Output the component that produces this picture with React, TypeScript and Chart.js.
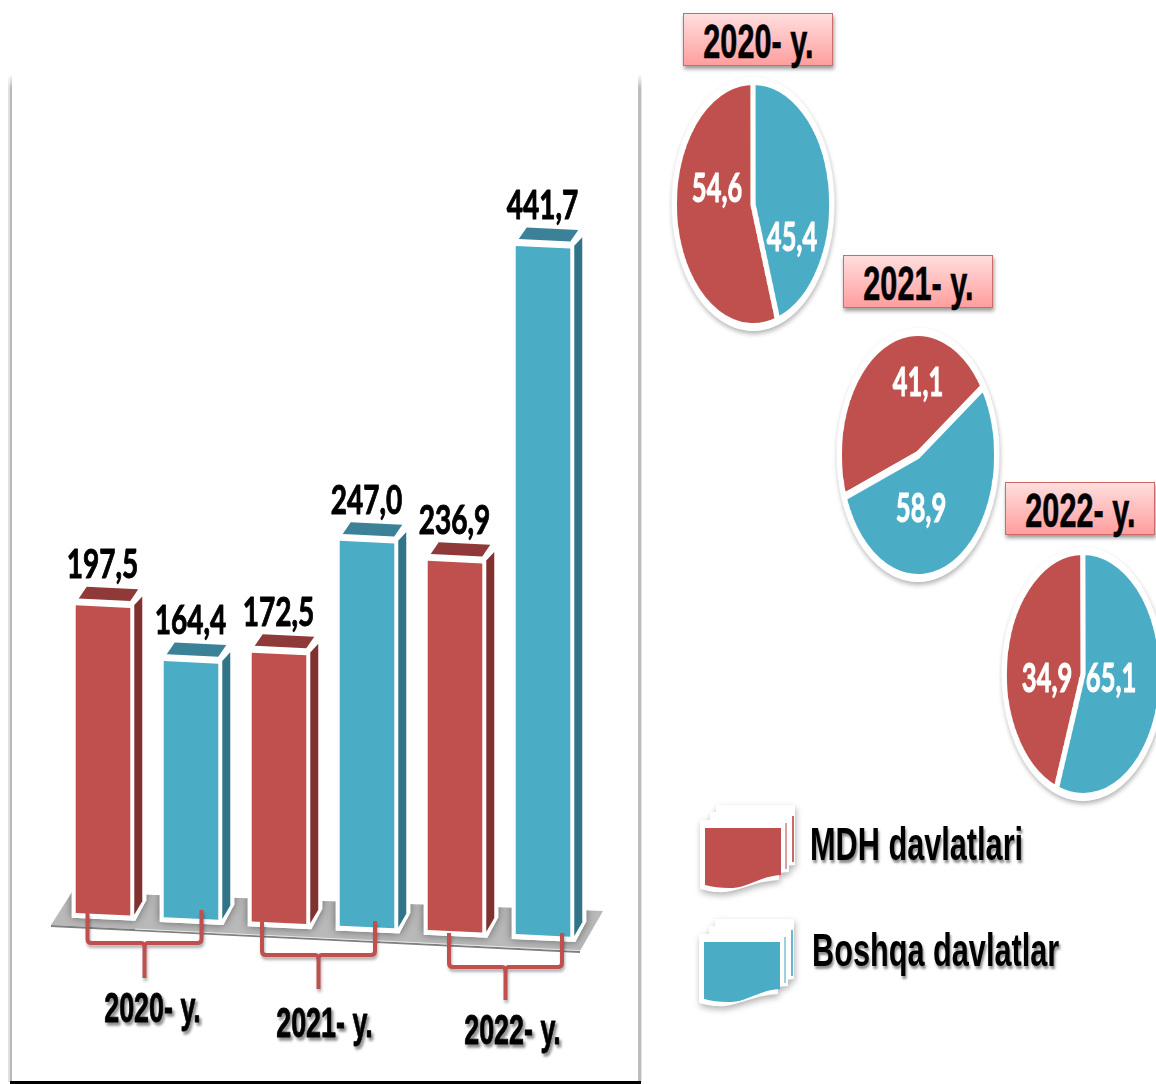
import React, { useEffect, useRef } from "react";
import { Chart, registerables } from "chart.js";

Chart.register(...registerables);

// ---- data ----
const years = ["2020- y.", "2021- y.", "2022- y."];
const seriesNames = ["MDH davlatlari", "Boshqa davlatlar"];
const mdhValues = [197.5, 172.5, 236.9];
const boshqaValues = [164.4, 247.0, 441.7];
// Printed pie labels
const mdhShareLabels = ["54,6", "41,1", "34,9"];
const boshqaShareLabels = ["45,4", "58,9", "65,1"];
// Slice sizes as actually drawn in the picture (pies 2 and 3 do not follow their printed labels)
const mdhDrawnShares = [55.1, 46.2, 44.4];
const boshqaDrawnShares = [44.9, 53.8, 55.6];

// ---- styles and layout ----
const RED = "#C0504D";
const BLUE = "#4BACC6";
const RED_TOP = "#8F3A38";
const RED_SIDE = "#813230";
const BLUE_TOP = "#3B8299";
const BLUE_SIDE = "#30748A";
const SANS = '"Liberation Sans", Arial, sans-serif';
const LATO = 'Lato, "Open Sans", sans-serif';
const SX = 0.64; // the whole picture is squeezed horizontally
const SHEAR = 0.048;
const SHEAR_X0 = 76;

const tickOffsets = [
  { dx: 5.5, dy: 97 },
  { dx: 1.5, dy: 112 },
  { dx: 13.5, dy: 119 },
];
const bracketShapes = [
  { nudge: -2.5, half: 57, topL: 0, topR: -3, bar: 30, stem: 65 },
  { nudge: -4.5, half: 56.5, topL: 9, topR: 8, bar: 42, stem: 76 },
  { nudge: 6.5, half: 56.5, topL: 20, topR: 20, bar: 54, stem: 87 },
];
const pieLayouts = [
  { cx: 753, cy: 204, rotation: 161.6, off: [[-36, -15], [39, 34]] },
  { cx: 918, cy: 455, rotation: -110, off: [[0, -72], [3, 54]] },
  { cx: 1083, cy: 674, rotation: 200, off: [[-36, 5], [28, 5]] },
];
const titleBoxes = [
  { left: 683, top: 13 },
  { left: 843, top: 255 },
  { left: 1005, top: 482 },
];
const platePoints = [[51, 925], [72, 892], [603, 911], [580, 951]];

function condensedText(ctx: any, text: string, x: number, y: number, font: string, sx: number, color: string, shadow?: boolean, heavy = 0) {
  ctx.save();
  ctx.translate(x, y);
  ctx.scale(sx, 1);
  ctx.font = font;
  ctx.textAlign = "center";
  ctx.textBaseline = "middle";
  ctx.fillStyle = color;
  if (shadow) {
    ctx.shadowColor = "rgba(0,0,0,0.45)";
    ctx.shadowBlur = 3;
    ctx.shadowOffsetX = 2;
    ctx.shadowOffsetY = 3;
  }
  if (heavy) {
    ctx.strokeStyle = color;
    ctx.lineWidth = heavy;
    ctx.lineJoin = "round";
    ctx.strokeText(text, 0, 0);
  }
  ctx.fillText(text, 0, 0);
  ctx.restore();
}

function tracePoly(ctx: any, pts: number[][]) {
  ctx.beginPath();
  pts.forEach((p, i) => (i ? ctx.lineTo(p[0], p[1]) : ctx.moveTo(p[0], p[1])));
  ctx.closePath();
}

function poly(ctx: any, pts: number[][], fill: string) {
  tracePoly(ctx, pts);
  ctx.fillStyle = fill;
  ctx.fill();
}

function shearCtx(ctx: any) {
  ctx.transform(1, SHEAR, 0, 1, 0, -SHEAR * SHEAR_X0);
}

function silhouette(p: any) {
  const l = p.x - p.width / 2;
  const r = p.x + p.width / 2;
  const t = p.y;
  const b = p.base;
  return [[l - 4, t - 4], [l + 3, t - 23], [r + 12, t - 21], [r + 16, t - 14], [r + 16, b - 16], [r + 5, b + 5], [l - 4, b + 5]];
}

const barScene = {
  id: "barScene",
  beforeDatasetsDraw(chart: any) {
    const ctx = chart.ctx;
    // floor plate
    poly(ctx, platePoints, "#B9B9B9");
    ctx.save();
    ctx.strokeStyle = "#7F7F7F";
    ctx.lineWidth = 2;
    ctx.beginPath();
    ctx.moveTo(51, 926);
    ctx.lineTo(580, 952);
    ctx.stroke();
    ctx.strokeStyle = "#E6E6E6";
    ctx.lineWidth = 1;
    ctx.beginPath();
    ctx.moveTo(135, 929);
    ctx.lineTo(580, 950.5);
    ctx.stroke();
    ctx.restore();

    const eachBar = (fn: (p: any, d: number) => void) =>
      chart.data.datasets.forEach((_: any, d: number) =>
        chart.getDatasetMeta(d).data.forEach((bar: any) => fn(bar.getProps(["x", "y", "base", "width"], true), d))
      );

    // soft shadow of the bars, only on the plate
    ctx.save();
    tracePoly(ctx, platePoints);
    ctx.clip();
    shearCtx(ctx);
    ctx.shadowColor = "rgba(0,0,0,0.45)";
    ctx.shadowBlur = 9;
    eachBar((p) => poly(ctx, silhouette(p), "#FFFFFF"));
    ctx.restore();

    ctx.save();
    shearCtx(ctx);
    const tops = [RED_TOP, BLUE_TOP];
    const sides = [RED_SIDE, BLUE_SIDE];
    eachBar((p, d) => {
      const l = p.x - p.width / 2;
      const r = p.x + p.width / 2;
      const t = p.y;
      const b = p.base;
      poly(ctx, silhouette(p), "#FFFFFF");
      poly(ctx, [[l + 3, t - 7], [l + 11, t - 19], [r + 8, t - 19], [r, t - 7]], tops[d]);
      poly(ctx, [[r + 4, t - 3], [r + 12, t - 12], [r + 12, b - 15], [r + 4, b - 1]], sides[d]);
    });
  },
  afterDatasetsDraw(chart: any) {
    const ctx = chart.ctx;
    ctx.restore();
    const shear = (x: number) => SHEAR * (x - SHEAR_X0);
    const zero = chart.scales.y.getPixelForValue(0);

    // value labels
    chart.data.datasets.forEach((ds: any, d: number) => {
      chart.getDatasetMeta(d).data.forEach((bar: any, i: number) => {
        const p = bar.getProps(["x", "y"], true);
        const text = ds.data[i].toFixed(1).replace(".", ",");
        condensedText(ctx, text, p.x - 0.5, p.y + shear(p.x) - 41, `bold 40px ${LATO}`, 0.7, "#000000", false, 1);
      });
    });

    // brackets and group labels
    chart.data.labels.forEach((label: string, i: number) => {
      const c = chart.scales.x.getPixelForValue(i);
      const s = bracketShapes[i];
      const stem = c + s.nudge;
      const left = stem - s.half;
      const right = stem + s.half;
      const h = zero + s.bar;
      ctx.save();
      ctx.strokeStyle = RED;
      ctx.lineWidth = 4;
      ctx.lineCap = "butt";
      ctx.shadowColor = "rgba(0,0,0,0.3)";
      ctx.shadowBlur = 3;
      ctx.shadowOffsetX = 1;
      ctx.shadowOffsetY = 3;
      ctx.beginPath();
      ctx.moveTo(left, zero + s.topL);
      ctx.lineTo(left, h - 4);
      ctx.quadraticCurveTo(left, h, left + 4, h);
      ctx.lineTo(stem - 3, h);
      ctx.quadraticCurveTo(stem, h, stem, h + 7);
      ctx.lineTo(stem, zero + s.stem);
      ctx.moveTo(stem, h + 7);
      ctx.quadraticCurveTo(stem, h, stem + 3, h);
      ctx.lineTo(right - 4, h);
      ctx.quadraticCurveTo(right, h, right, h - 4);
      ctx.lineTo(right, zero + s.topR);
      ctx.stroke();
      ctx.restore();
      condensedText(ctx, label, c + tickOffsets[i].dx, zero + tickOffsets[i].dy, `bold 42px ${SANS}`, 0.64, "#000000", true, 0.8);
    });
  },
};

function BarPanel() {
  const ref = useRef<HTMLCanvasElement>(null);
  useEffect(() => {
    const chart = new Chart(ref.current!, {
      type: "bar",
      data: {
        labels: years,
        datasets: [
          { label: seriesNames[0], data: mdhValues, backgroundColor: RED, clip: false },
          { label: seriesNames[1], data: boshqaValues, backgroundColor: BLUE, clip: false },
        ],
      },
      options: {
        responsive: false,
        animation: false,
        barPercentage: 0.62,
        categoryPercentage: 1,
        layout: { padding: { left: 59, right: 53, top: 134, bottom: 171 } },
        scales: {
          x: { display: false },
          y: { display: false, min: 0, max: 500 },
        },
        plugins: { legend: { display: false }, tooltip: { enabled: false } },
      },
      plugins: [barScene],
    } as any);
    return () => chart.destroy();
  }, []);
  return <canvas ref={ref} width={640} height={1084} style={{ position: "absolute", left: 0, top: 0 }} />;
}

const pieLabels = {
  id: "pieLabels",
  afterDatasetsDraw(chart: any, _a: any, opts: any) {
    const meta = chart.getDatasetMeta(0).data[0];
    opts.texts.forEach((t: string, i: number) => {
      condensedText(chart.ctx, t, meta.x + opts.off[i][0] / SX, meta.y + opts.off[i][1], `bold 40px ${LATO}`, 1, "#FFFFFF", false, 1);
    });
  },
};

const PIE_SIZE = 254;

function Pie({ index }: { index: number }) {
  const ref = useRef<HTMLCanvasElement>(null);
  const lay = pieLayouts[index];
  useEffect(() => {
    const chart = new Chart(ref.current!, {
      type: "pie",
      data: {
        labels: seriesNames,
        datasets: [
          {
            data: [mdhDrawnShares[index], boshqaDrawnShares[index]],
            backgroundColor: [RED, BLUE],
            borderColor: "#FFFFFF",
            borderWidth: 8,
          },
        ],
      },
      options: {
        responsive: false,
        animation: false,
        rotation: lay.rotation,
        layout: { padding: 0 },
        plugins: {
          legend: { display: false },
          tooltip: { enabled: false },
          pieLabels: { texts: [mdhShareLabels[index], boshqaShareLabels[index]], off: lay.off },
        },
      },
      plugins: [pieLabels],
    } as any);
    return () => chart.destroy();
  }, [index]);
  return (
    <div
      style={{
        position: "absolute",
        left: lay.cx - PIE_SIZE / 2,
        top: lay.cy - PIE_SIZE / 2,
        width: PIE_SIZE,
        height: PIE_SIZE,
        borderRadius: "50%",
        background: "#FFFFFF",
        boxShadow: "1px 3px 6px rgba(0,0,0,0.3)",
        transform: `scaleX(${SX})`,
      }}
    >
      <canvas ref={ref} width={PIE_SIZE} height={PIE_SIZE} />
    </div>
  );
}

function TitleBox({ index }: { index: number }) {
  const b = titleBoxes[index];
  return (
    <div
      style={{
        position: "absolute",
        left: b.left,
        top: b.top,
        width: 150,
        height: 53,
        boxSizing: "border-box",
        border: "1.5px solid #CF6A67",
        background: "linear-gradient(#FFDEDE, #FF9E9E)",
        boxShadow: "1px 3px 4px rgba(0,0,0,0.4)",
        display: "flex",
        alignItems: "center",
        justifyContent: "center",
      }}
    >
      <span
        style={{
          font: `bold 47.5px ${SANS}`,
          color: "#000",
          transform: "translateY(2px) scaleX(0.645)",
          whiteSpace: "nowrap",
          display: "inline-block",
          lineHeight: "50px",
          WebkitTextStroke: "0.6px #000",
        }}
      >
        {years[index]}
      </span>
    </div>
  );
}

function LegendItem({ index, top, color, left, textLeft, textTop }: { index: number; top: number; color: string; left: number; textLeft: number; textTop: number }) {
  const shadow = "drop-shadow(1px 3px 3px rgba(0,0,0,0.3))";
  const page = (dx: number, dy: number) =>
    `M${dx + 4} ${dy}H${dx + 79}V${dy + 60}C${dx + 50} ${dy + 62} ${dx + 35} ${dy + 74} ${dx + 18} ${dy + 72}C${dx + 10} ${dy + 72} ${dx + 6} ${dy + 70} ${dx} ${dy + 69}V${dy}Z`;
  return (
    <>
      <svg width={110} height={100} style={{ position: "absolute", left: left - 10, top: top - 28, overflow: "visible" }}>
        <g style={{ filter: shadow }}>
          <path d={page(21, 5)} fill="#fff" />
          <path d={page(15, 12)} fill="#fff" />
          <path d={page(5, 20)} fill="#fff" />
        </g>
        <rect x={97} y={16} width={2} height={46} fill={color} opacity={0.85} />
        <rect x={90} y={23} width={2} height={46} fill={color} opacity={0.55} />
        <path d="M10 28H86V75C66 76 54 87 38 88C28 88.5 18 87 10 85Z" fill={color} />
      </svg>
      <span
        style={{
          position: "absolute",
          left: textLeft,
          top: textTop,
          font: `bold 46px ${SANS}`,
          lineHeight: "50px",
          color: "#000",
          whiteSpace: "nowrap",
          transform: "scaleX(0.667)",
          transformOrigin: "left center",
          textShadow: "2px 3px 3px rgba(0,0,0,0.45)",
        }}
      >
        {seriesNames[index]}
      </span>
    </>
  );
}

const edge = (left: number, width: number, c: string) => (
  <div
    style={{
      position: "absolute",
      left,
      top: 74,
      width,
      height: 1008,
      background: `linear-gradient(to bottom, rgba(255,255,255,0) 0px, ${c} 14px, ${c} 100%)`,
    }}
  />
);

export default function App() {
  return (
    <div
      style={{
        position: "absolute",
        left: 0,
        top: 0,
        width: 1156,
        height: 1084,
        overflow: "hidden",
        background: "#FFFFFF",
        filter: "blur(0.45px)",
      }}
    >
      {edge(8, 2, "#E0E0E0")}
      {edge(10, 1.5, "#B8B8B8")}
      {edge(638, 3, "#BDBDBD")}
      {edge(641, 1, "#E4E4E4")}
      <BarPanel />
      <div style={{ position: "absolute", left: 10, top: 1081, width: 631, height: 3, background: "#000" }} />
      <TitleBox index={0} />
      <TitleBox index={1} />
      <TitleBox index={2} />
      <Pie index={0} />
      <Pie index={1} />
      <Pie index={2} />
      <LegendItem index={0} top={828} color={RED} left={705} textLeft={810} textTop={819} />
      <LegendItem index={1} top={942} color={BLUE} left={704} textLeft={812} textTop={925} />
    </div>
  );
}
